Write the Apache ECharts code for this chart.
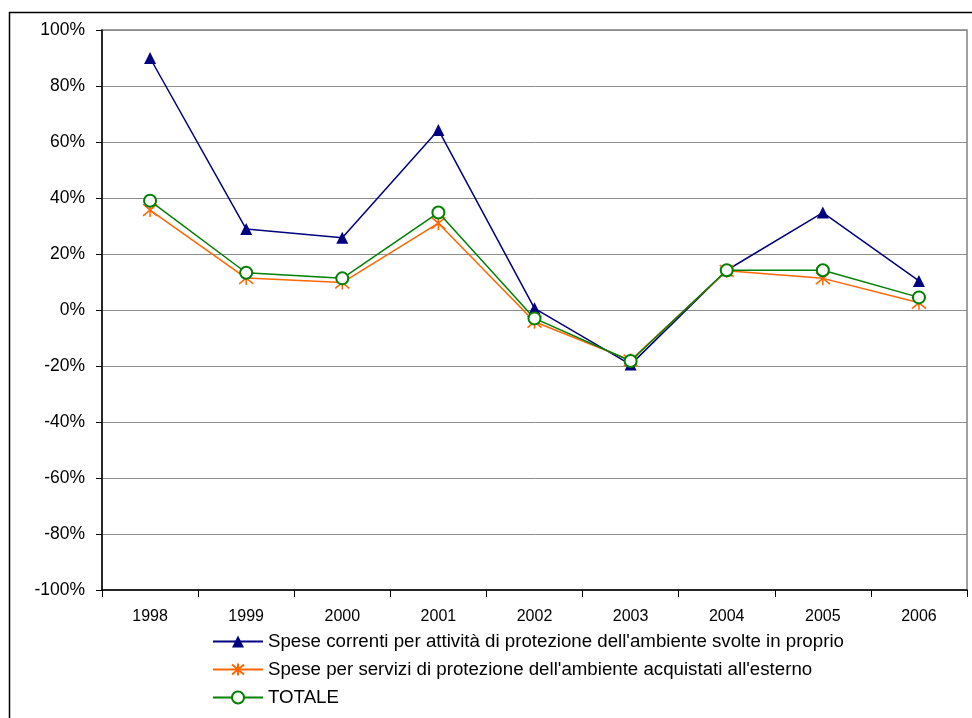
<!DOCTYPE html>
<html>
<head>
<meta charset="utf-8">
<script src="https://cdn.jsdelivr.net/npm/echarts@6/dist/echarts.min.js"></script>
<style>
html,body{margin:0;padding:0;background:#fff;}
#chart{width:972px;height:718px;}
</style>
</head>
<body>
<div id="chart"></div>
<script>
var years = ['1998','1999','2000','2001','2002','2003','2004','2005','2006'];
var seriesNames = [
  "Spese correnti per attività di protezione dell'ambiente svolte in proprio",
  "Spese per servizi di protezione dell'ambiente acquistati all'esterno",
  "TOTALE"
];
var speseCorrenti = [90, 28.9, 25.8, 64.3, 0.6, -19.5, 14.2, 34.8, 10.4];
var speseServizi  = [35.7, 11.4, 9.8, 31, -4.2, -18, 14, 11.3, 2.6];
var totale        = [39, 13.3, 11.3, 34.8, -3, -18.2, 14.2, 14.2, 4.5];
var yMin = -100, yMax = 100, yStep = 20;

var FONT = 'Liberation Sans, Arial, sans-serif';
var chart = echarts.init(document.getElementById('chart'), null, {renderer:'canvas'});
var asterisk = 'path://M0,0 L10,10 M0,10 L10,0 M5,-1 L5,11';

chart.setOption({
  backgroundColor: '#ffffff',
  animation: false,
  textStyle: {fontFamily: FONT},
  grid: {
    left: 102, right: 5, top: 30, bottom: 128,
    show: true, borderColor: '#808080', borderWidth: 1.5, backgroundColor: 'transparent'
  },
  xAxis: {
    type: 'category',
    data: years,
    boundaryGap: true,
    axisLine: {onZero: false, lineStyle: {color: '#000', width: 1.5}},
    axisTick: {show: true, length: 7, inside: false, lineStyle: {color: '#000', width: 1}},
    axisLabel: {color: '#000', fontSize: 16, fontFamily: FONT, margin: 19},
    splitLine: {show: false}
  },
  yAxis: {
    type: 'value',
    min: yMin, max: yMax, interval: yStep,
    axisLine: {show: true, lineStyle: {color: '#000', width: 1.5}},
    axisTick: {show: true, length: 6, lineStyle: {color: '#000', width: 1}},
    axisLabel: {color: '#000', fontSize: 17.5, fontFamily: FONT, margin: 17, formatter: '{value}%'},
    splitLine: {show: true, lineStyle: {color: '#8c8c8c', width: 1}}
  },
  legend: {
    orient: 'vertical',
    left: 207, top: 627,
    itemWidth: 50, itemHeight: 15, itemGap: 9,
    textStyle: {color: '#000', fontSize: 18.7, fontFamily: FONT},
    data: seriesNames
  },
  series: [
    {
      name: seriesNames[0], type: 'line', data: speseCorrenti,
      symbol: 'triangle', symbolSize: 12,
      lineStyle: {color: '#000080', width: 1.5},
      itemStyle: {color: '#000080'},
      z: 3
    },
    {
      name: seriesNames[1], type: 'line', data: speseServizi,
      symbol: asterisk, symbolSize: 14,
      lineStyle: {color: '#FF6600', width: 1.5},
      itemStyle: {color: '#FF6600', borderColor: '#FF6600', borderWidth: 1.5},
      z: 4
    },
    {
      name: seriesNames[2], type: 'line', data: totale,
      symbol: 'emptyCircle', symbolSize: 12,
      lineStyle: {color: '#008000', width: 1.5},
      itemStyle: {color: '#008000', borderColor: '#008000', borderWidth: 1.5},
      z: 5
    }
  ],
  graphic: [
    {type: 'line', shape: {x1: 9, y1: 12.5, x2: 972, y2: 12.5}, style: {stroke: '#000', lineWidth: 1.5}},
    {type: 'line', shape: {x1: 9.5, y1: 12, x2: 9.5, y2: 718}, style: {stroke: '#000', lineWidth: 1.5}}
  ]
});
</script>
</body>
</html>
